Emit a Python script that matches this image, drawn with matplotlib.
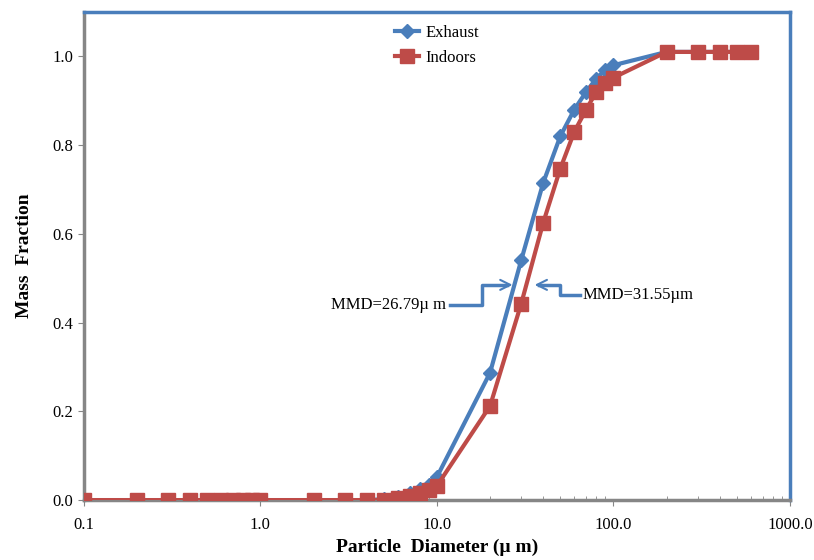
import numpy as np
from matplotlib import pyplot as plt

plt.rcParams['font.family'] = ['Liberation Serif', 'DejaVu Serif']

diam = [0.1, 0.2, 0.3, 0.4, 0.5, 0.6, 0.7, 0.8, 0.9, 1.0,
        2, 3, 4, 5, 6, 7, 8, 9, 10,
        20, 30, 40, 50, 60, 70, 80, 90, 100,
        200, 300, 400, 500, 600]
exhaust = [0, 0, 0, 0, 0, 0, 0, 0, 0, 0,
           0, 0, 0, 0.002, 0.008, 0.015, 0.025, 0.035, 0.052,
           0.287, 0.54, 0.715, 0.82, 0.88, 0.92, 0.95, 0.97, 0.98,
           1.01, 1.01, 1.01, 1.01, 1.01]
indoors = [0, 0, 0, 0, 0, 0, 0, 0, 0, 0,
           0, 0, 0, 0, 0.004, 0.01, 0.016, 0.022, 0.032,
           0.212, 0.442, 0.625, 0.747, 0.83, 0.88, 0.92, 0.94, 0.952,
           1.01, 1.01, 1.01, 1.01, 1.01]

blue = '#4A7EBB'
red = '#BE4B48'
grey = '#868686'

fig = plt.figure(figsize=(8.14, 5.6), dpi=100)
ax = fig.add_axes([0.103, 0.107, 0.8675, 0.8716])

ax.plot(diam, exhaust, color=blue, lw=3, marker='D', ms=7, label='Exhaust', zorder=3)
ax.plot(diam, indoors, color=red, lw=3, marker='s', ms=9.5, label='Indoors', zorder=4)

ax.set_xscale('log')
ax.set_xlim(0.1, 1000)
ax.set_ylim(0, 1.1)
ax.set_yticks([0, 0.2, 0.4, 0.6, 0.8, 1.0])
ax.set_yticklabels(['0.0', '0.2', '0.4', '0.6', '0.8', '1.0'], fontsize=12)
ax.set_xticks([0.1, 1, 10, 100, 1000])
ax.set_xticklabels(['0.1', '1.0', '10.0', '100.0', '1000.0'], fontsize=12)
ax.tick_params(axis='x', which='major', pad=8, color=grey, length=4)
ax.tick_params(axis='x', which='minor', color=grey, length=3, direction='in')
ax.tick_params(axis='y', color=grey, length=4)

for s in ['left', 'bottom']:
    ax.spines[s].set_color(grey)
    ax.spines[s].set_linewidth(2.5)
for s in ['top', 'right']:
    ax.spines[s].set_color(blue)
    ax.spines[s].set_linewidth(2.5)

ax.set_xlabel('Particle  Diameter (\u00b5 m)', fontsize=14, fontweight='bold', labelpad=4)
ax.set_ylabel('Mass  Fraction', fontsize=14, fontweight='bold', labelpad=14)

ax.legend(loc='upper left', bbox_to_anchor=(0.42, 1.005), frameon=False,
          fontsize=12, handlelength=1.4, handletextpad=0.4, labelspacing=0.55)

# MMD annotations
ax.plot([11.8, 18, 18, 25], [0.44, 0.44, 0.485, 0.485], color=blue, lw=2.5, zorder=2)
ax.annotate('', xy=(27.8, 0.485), xytext=(24, 0.485),
            arrowprops=dict(arrowstyle='->', color=blue, lw=1.5, mutation_scale=18))
ax.text(11.2, 0.44, 'MMD=26.79\u00b5 m', fontsize=12, ha='right', va='center', zorder=5)
ax.plot([64.6, 49.8, 49.8, 38], [0.463, 0.463, 0.485, 0.485], color=blue, lw=2.5, zorder=2)
ax.annotate('', xy=(34.5, 0.485), xytext=(40, 0.485),
            arrowprops=dict(arrowstyle='->', color=blue, lw=1.5, mutation_scale=18))
ax.text(67, 0.463, 'MMD=31.55\u00b5m', fontsize=12, ha='left', va='center')

fig.savefig('out.png', dpi=100)
